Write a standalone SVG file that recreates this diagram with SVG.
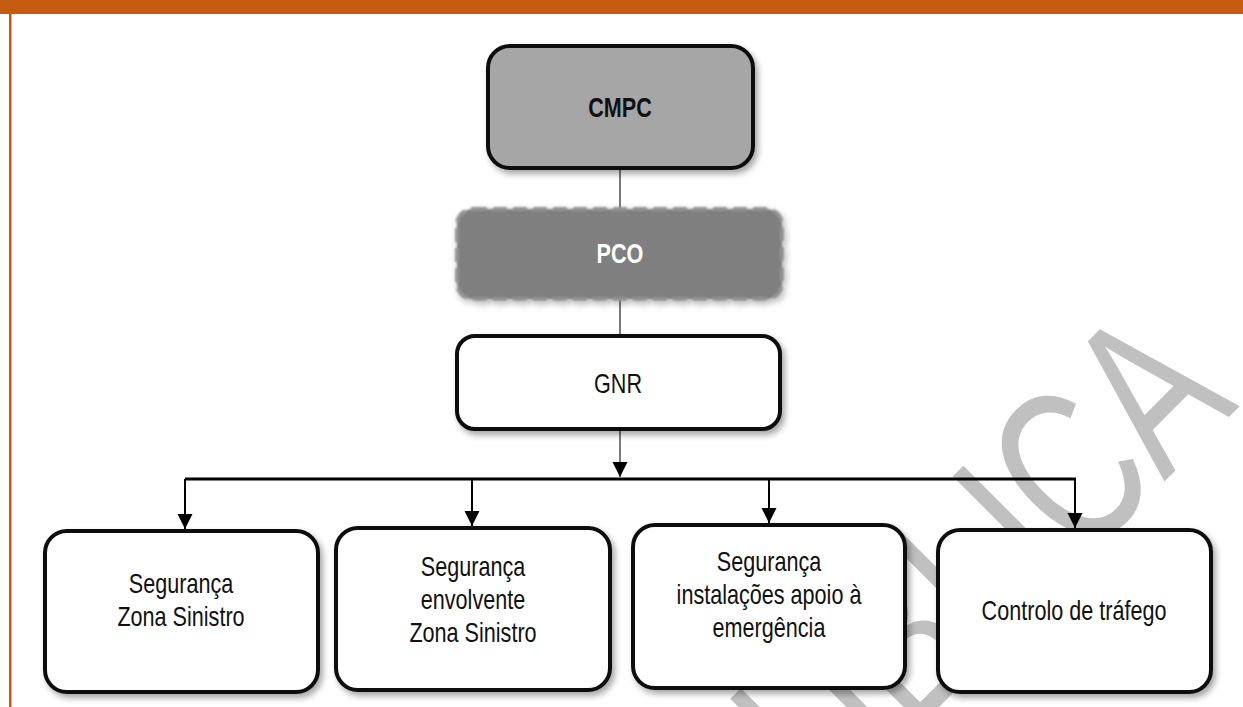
<svg xmlns="http://www.w3.org/2000/svg" width="1243" height="707" viewBox="0 0 1243 707">
<defs>
<style>
.box{fill:#ffffff;stroke:#111111;stroke-width:4;}
.t{font-family:"Liberation Sans",Arial,sans-serif;font-size:21.6px;fill:#111111;text-anchor:middle;}
.b{font-weight:bold;}
.thin{stroke:#333333;stroke-width:1.3;fill:none;}
.bus{stroke:#000000;stroke-width:3;fill:none;}
.br{stroke:#000000;stroke-width:2;fill:none;}
</style>
<filter id="sh" x="-10%" y="-10%" width="125%" height="130%">
<feDropShadow dx="3" dy="4" stdDeviation="3" flood-color="#000000" flood-opacity="0.35"/>
</filter>
<filter id="glow" x="-10%" y="-20%" width="120%" height="140%">
<feGaussianBlur in="SourceGraphic" stdDeviation="1.2" result="b"/>
<feDropShadow in="b" dx="2" dy="3" stdDeviation="3" flood-color="#000000" flood-opacity="0.3"/>
</filter>
<marker id="ah" markerUnits="userSpaceOnUse" markerWidth="16" markerHeight="16" refX="15" refY="7.5" orient="auto">
<path d="M0,0 L15,7.5 L0,15 Z" fill="#000000"/>
</marker>
</defs>
<rect x="0" y="0" width="1243" height="707" fill="#ffffff"/>
<rect x="0" y="0" width="1243" height="14" fill="#C55A11"/>
<rect x="9" y="14" width="2.5" height="693" fill="#C55A11"/>

<g id="watermark">
<text transform="matrix(0.509,-0.509,0.707,0.707,1240,406)" font-family="Liberation Sans,Arial,sans-serif" font-size="223" fill="#c0c0c0" text-anchor="end">PÚBLICA</text>
</g>

<g id="connectors">
<line class="thin" x1="620" y1="168" x2="620" y2="209"/>
<line class="thin" x1="620" y1="300" x2="620" y2="336"/>
<line class="thin" x1="620" y1="429" x2="620" y2="477" marker-end="url(#ah)"/>
<line class="bus" x1="185" y1="479" x2="1076" y2="479"/>
<line class="br" x1="185" y1="479" x2="185" y2="529" marker-end="url(#ah)"/>
<line class="br" x1="472" y1="479" x2="472" y2="526" marker-end="url(#ah)"/>
<line class="br" x1="769" y1="479" x2="769" y2="523" marker-end="url(#ah)"/>
<line class="br" x1="1075" y1="479" x2="1075" y2="528" marker-end="url(#ah)"/>
</g>

<g id="cmpc">
<rect x="488" y="46" width="265" height="122" rx="22" fill="#A6A6A6" stroke="#111111" stroke-width="4" filter="url(#sh)"/>
<text class="t b" transform="translate(620,117) scale(1,1.25)">CMPC</text>
</g>

<g id="pco">
<rect x="457" y="209" width="325" height="90" rx="16" fill="#7F7F7F" stroke="#939393" stroke-width="4" stroke-dasharray="14 6" filter="url(#glow)"/>
<text class="t b" style="fill:#ffffff" transform="translate(620,263) scale(1,1.25)">PCO</text>
</g>

<g id="gnr">
<rect class="box" x="457" y="336" width="323" height="93" rx="18" filter="url(#sh)"/>
<text class="t" transform="translate(618,393) scale(1,1.25)">GNR</text>
</g>

<g id="seg-zona">
<rect class="box" x="45" y="531" width="273" height="161" rx="22" filter="url(#sh)"/>
<text class="t" transform="translate(181,593) scale(1,1.25)"><tspan x="0" y="0">Segurança</tspan><tspan x="0" y="26.4">Zona Sinistro</tspan></text>
</g>

<g id="seg-envolvente">
<rect class="box" x="336" y="528" width="274" height="162" rx="22" filter="url(#sh)"/>
<text class="t" transform="translate(473,576) scale(1,1.25)"><tspan x="0" y="0">Segurança</tspan><tspan x="0" y="26.4">envolvente</tspan><tspan x="0" y="52.8">Zona Sinistro</tspan></text>
</g>

<g id="seg-instalacoes">
<rect class="box" x="633" y="525" width="272" height="163" rx="22" filter="url(#sh)"/>
<text class="t" transform="translate(769,571) scale(1,1.25)"><tspan x="0" y="0">Segurança</tspan><tspan x="0" y="26.4">instalações apoio à</tspan><tspan x="0" y="52.8">emergência</tspan></text>
</g>

<g id="controlo">
<rect class="box" x="938" y="530" width="273" height="162" rx="22" filter="url(#sh)"/>
<text class="t" transform="translate(1074,620) scale(1,1.25)">Controlo de tráfego</text>
</g>
</svg>
